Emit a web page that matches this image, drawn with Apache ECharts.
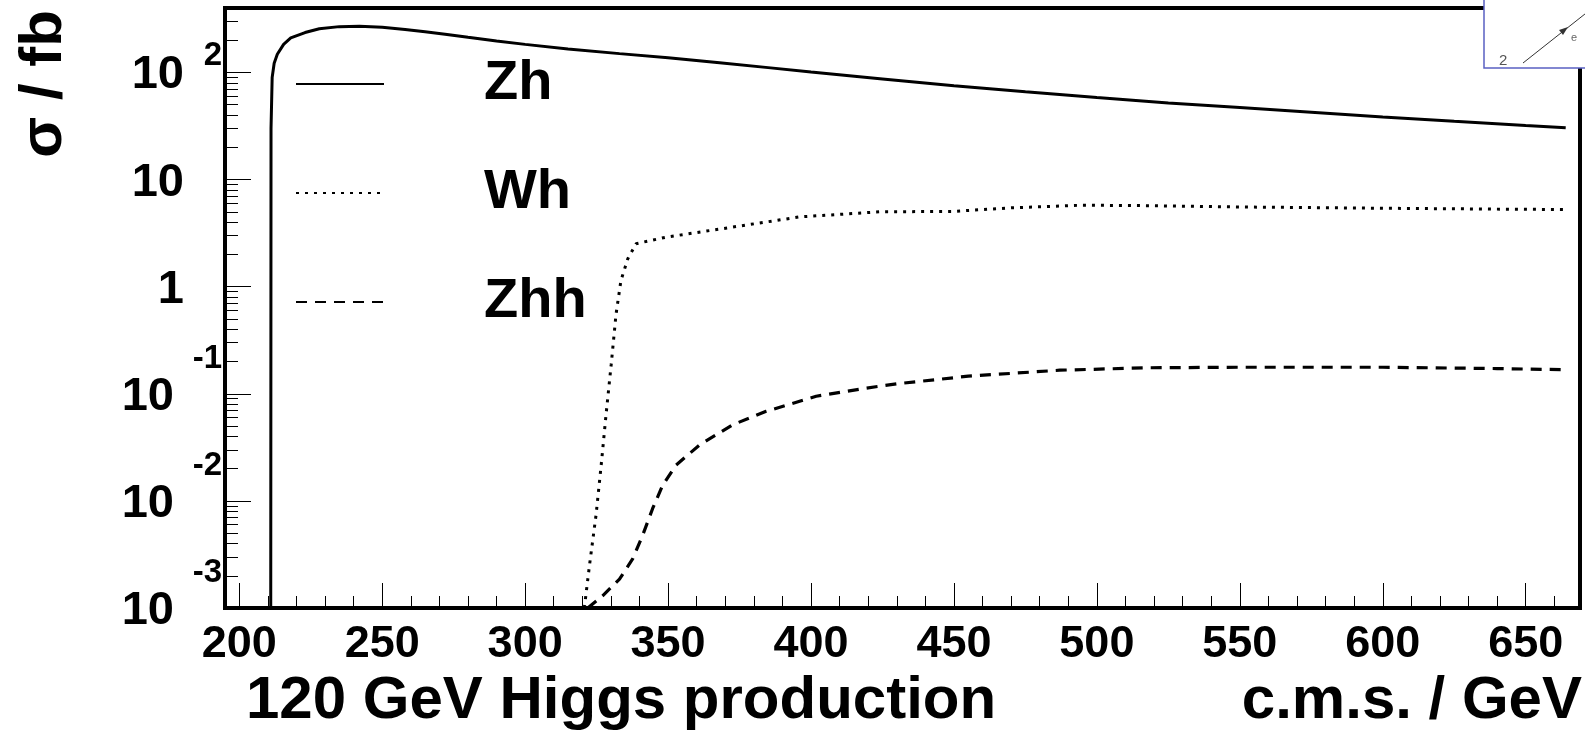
<!DOCTYPE html>
<html><head><meta charset="utf-8">
<script src="https://cdn.jsdelivr.net/npm/echarts@6/dist/echarts.min.js"></script>
<style>html,body{margin:0;padding:0;background:#fff}#c{width:1585px;height:734px}</style>
</head><body><div id="c"></div>
<script>
// ---- data (cross sections in fb vs c.m.s. energy in GeV) ----
const zhEnergy  = [211.0, 211.1, 211.5, 212.2, 213.3, 215.5, 218, 223, 228, 235, 242, 250, 258, 265, 272, 280, 290, 300, 315, 333, 350, 368, 385, 400, 425, 450, 475, 500, 525, 550, 575, 600, 625, 650, 664];
const zhSigma   = [0.001, 30, 90, 122, 148, 183, 210, 236, 256, 268, 270, 264, 252, 240, 228, 213, 197, 183, 166, 150, 137, 123, 111, 101, 87, 75, 66, 58.5, 52, 47, 42.5, 38.5, 35, 32, 30.5];
const whEnergy  = [320.7, 322.5, 324.8, 326.6, 328.3, 330.1, 331.8, 333.5, 335.9, 338.8, 349.3, 372.6, 395.9, 424, 450, 470, 495, 520, 550, 600, 640, 664];
const whSigma   = [0.001, 0.0025, 0.0074, 0.0216, 0.064, 0.188, 0.555, 1.14, 1.82, 2.52, 2.9, 3.6, 4.48, 5.0, 5.05, 5.45, 5.77, 5.7, 5.55, 5.4, 5.3, 5.25];
const zhhEnergy = [321.9, 327.1, 333, 337.6, 341.1, 344.6, 348.1, 352.8, 361, 372.6, 384.3, 401.8, 419.3, 430, 455, 487, 518, 550, 600, 640, 664];
const zhhSigma  = [0.001, 0.0013, 0.00186, 0.00287, 0.00477, 0.0085, 0.014, 0.0216, 0.0333, 0.0514, 0.0686, 0.0948, 0.113, 0.124, 0.146, 0.166, 0.175, 0.177, 0.177, 0.172, 0.168];
const seriesNames = ['Zh', 'Wh', 'Zhh'];
const xMajorTicks = [200, 250, 300, 350, 400, 450, 500, 550, 600, 650];
const xMinorTicks = [210, 220, 230, 240, 260, 270, 280, 290, 310, 320, 330, 340, 360, 370, 380, 390, 410, 420, 430, 440, 460, 470, 480, 490, 510, 520, 530, 540, 560, 570, 580, 590, 610, 620, 630, 640, 660];
const yMajorTicks = [0.001, 0.01, 0.1, 1, 10, 100];
const yMinorTicks = [];
for (let d = -3; d <= 2; d++) for (let k = 2; k <= 9; k++) { const v = +(k * Math.pow(10, d)).toPrecision(3); if (v < 400) yMinorTicks.push(v); }

const FONT = '"Liberation Sans", Arial, Helvetica, sans-serif';
const pairs = (xs, ys) => xs.map((x, i) => [x, ys[i]]);
const bigText = {fontFamily: FONT, fontSize: 60, fontWeight: 'bold', color: '#000', lineHeight: 60};
const numStyle = lh => ({fontFamily: FONT, fontSize: 47, fontWeight: 'bold', color: '#000', lineHeight: lh});

const chart = echarts.init(document.getElementById('c'), null, {renderer: 'canvas'});
chart.setOption({
  animation: false,
  backgroundColor: '#fff',
  textStyle: {fontFamily: FONT},
  title: [
    {text: '120 GeV Higgs production', left: 246, top: 671, padding: 0, textStyle: bigText},
    {text: 'c.m.s. / GeV', right: 3, top: 671, padding: 0, textStyle: bigText}
  ],
  grid: {left: 225, right: 5, top: 8, bottom: 126, show: true, borderColor: '#000', borderWidth: 4,
         backgroundColor: 'transparent', containLabel: false, outerBoundsMode: 'none'},
  legend: {
    orient: 'vertical', left: 295, top: 56, padding: 0, itemWidth: 88, itemHeight: 14, itemGap: 53,
    data: seriesNames, selectedMode: false,
    itemStyle: {opacity: 0, borderWidth: 0},
    formatter: n => '{g| }{t|' + n + '}',
    textStyle: {color: '#000', rich: {
      g: {width: 95, lineHeight: 60},
      t: {fontFamily: FONT, fontSize: 56, fontWeight: 'bold', color: '#000', lineHeight: 60}
    }}
  },
  xAxis: [{
    type: 'value', min: 195, max: 669, position: 'bottom',
    axisLine: {show: false}, splitLine: {show: false},
    axisTick: {inside: true, length: 25, lineStyle: {color: '#000', width: 1}, customValues: xMajorTicks},
    axisLabel: {customValues: xMajorTicks, margin: 14, showMinLabel: true, showMaxLabel: true,
                fontFamily: FONT, fontSize: 45, fontWeight: 'bold', color: '#000'}
  }, {
    type: 'value', min: 195, max: 669, position: 'bottom',
    axisLine: {show: false}, splitLine: {show: false}, axisLabel: {show: false},
    axisTick: {inside: true, length: 12, lineStyle: {color: '#000', width: 1}, customValues: xMinorTicks}
  }],
  yAxis: [{
    type: 'log', logBase: 10, min: 0.001, max: 400, position: 'left',
    axisLine: {show: false}, splitLine: {show: false},
    axisTick: {inside: true, length: 26, lineStyle: {color: '#000', width: 1}, customValues: yMajorTicks},
    axisLabel: {
      customValues: yMajorTicks, margin: 3, color: '#000',
      showMinLabel: true, showMaxLabel: true, hideOverlap: false,
      formatter: function (v) {
        const e = Math.round(Math.log10(v));
        if (e === 0) return '{e| }\n{n|1}{s1| }';
        if (e === 1) return '{e| }\n{n|10}{s1| }';
        if (e > 1) return '{e|' + e + '}\n{nm|10}{s1| }';
        return '{e|' + e + '}\n{nl|10}{s2| }';
      },
      rich: {
        n: numStyle(30),
        nm: numStyle(34),
        nl: numStyle(70),
        s1: {width: 38, lineHeight: 30},
        s2: {width: 48, lineHeight: 30},
        e: {fontFamily: FONT, fontSize: 33, fontWeight: 'bold', color: '#000', lineHeight: 6}
      }
    }
  }, {
    type: 'log', logBase: 10, min: 0.001, max: 400, position: 'left',
    axisLine: {show: false}, splitLine: {show: false}, axisLabel: {show: false},
    axisTick: {inside: true, length: 13, lineStyle: {color: '#000', width: 1}, customValues: yMinorTicks}
  }],
  series: [
    {name: 'Zh', type: 'line', data: pairs(zhEnergy, zhSigma), symbol: 'none', smooth: false,
     itemStyle: {color: '#000'}, lineStyle: {color: '#000', width: 3, type: 'solid'}},
    {name: 'Wh', type: 'line', data: pairs(whEnergy, whSigma), symbol: 'none', smooth: false,
     itemStyle: {color: '#000'}, lineStyle: {color: '#000', width: 3, type: [3, 6], cap: 'butt'}},
    {name: 'Zhh', type: 'line', data: pairs(zhhEnergy, zhhSigma), symbol: 'none', smooth: false,
     itemStyle: {color: '#000'}, lineStyle: {color: '#000', width: 3.2, type: [11, 8], cap: 'butt'}}
  ],
  graphic: [
    {type: 'text', x: 44, y: 10, rotation: Math.PI / 2, z: 50,
     style: {text: 'σ / fb', font: 'bold 60px ' + FONT, fill: '#000', align: 'right', verticalAlign: 'middle'}},
    {type: 'rect', z: 100, shape: {x: 1484, y: -5, width: 120, height: 73},
     style: {fill: '#fff', stroke: '#5a60c2', lineWidth: 1.5}},
    {type: 'line', z: 101, shape: {x1: 1523, y1: 63, x2: 1590, y2: 10}, style: {stroke: '#333', lineWidth: 1}},
    {type: 'polygon', z: 101, shape: {points: [[1568, 27], [1559, 30], [1563, 35]]}, style: {fill: '#333'}},
    {type: 'text', z: 101, x: 1499, y: 53, style: {text: '2', font: '15px ' + FONT, fill: '#555'}},
    {type: 'text', z: 101, x: 1571, y: 32, style: {text: 'e', font: '11px ' + FONT, fill: '#666'}}
  ]
});
</script></body></html>
